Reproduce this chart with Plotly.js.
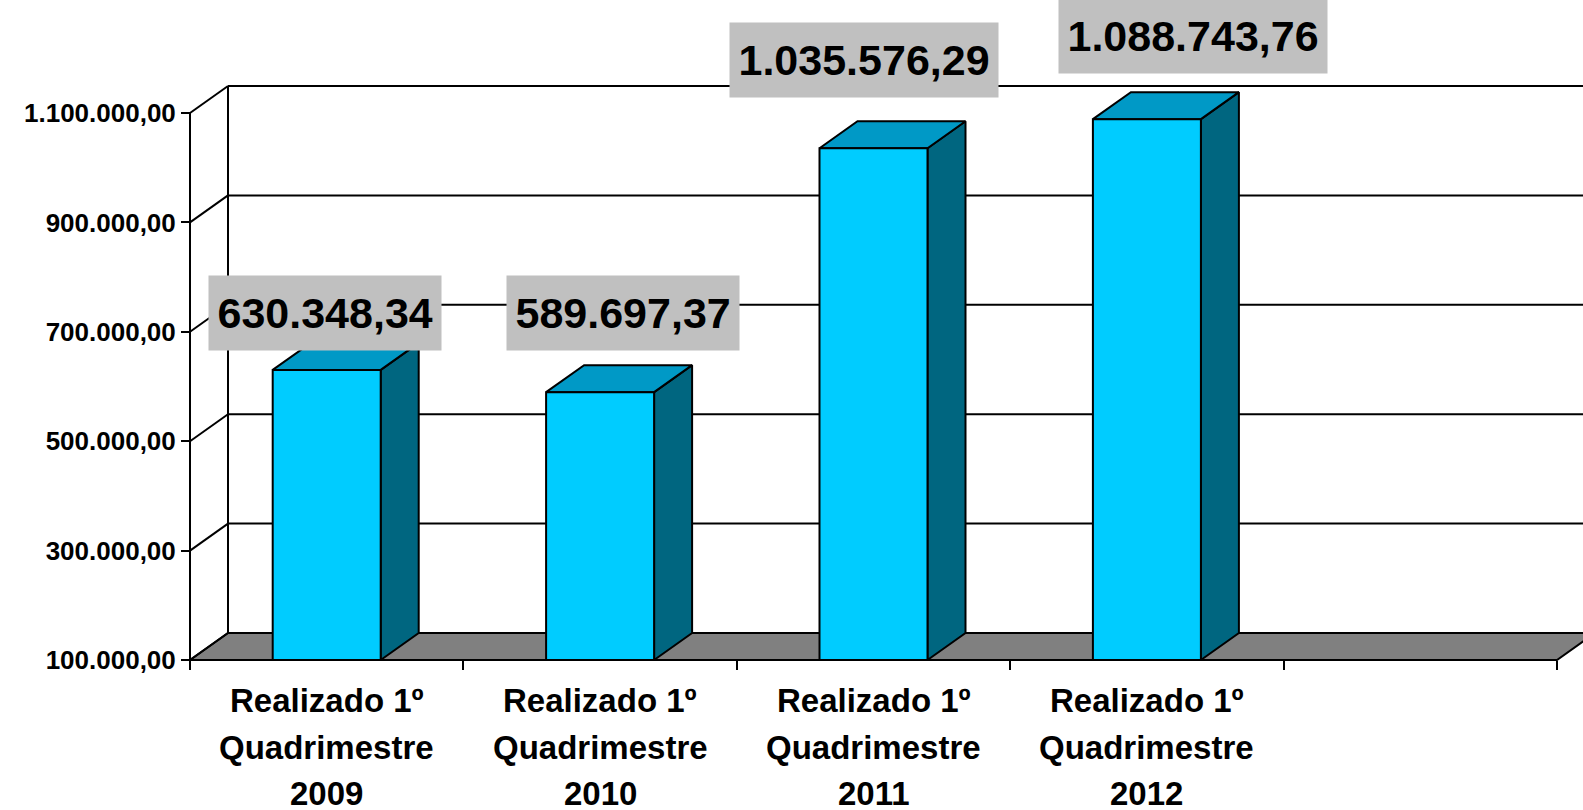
<!DOCTYPE html>
<html>
<head>
<meta charset="utf-8">
<script src="https://cdn.plot.ly/plotly-3.0.1.min.js"></script>
<style>html,body{margin:0;padding:0;background:#fff;}#chart{width:1583px;height:810px;}</style>
</head>
<body>
<div id="chart"></div>
<script>
// ---- data ----
const categories = ['Realizado 1º<br>Quadrimestre<br>2009', 'Realizado 1º<br>Quadrimestre<br>2010', 'Realizado 1º<br>Quadrimestre<br>2011', 'Realizado 1º<br>Quadrimestre<br>2012'];
const values = [630348.34, 589697.37, 1035576.29, 1088743.76];
const yTicks = [100000, 300000, 500000, 700000, 900000, 1100000];
const nSlots = 5; // the original category axis has one extra empty slot

// ---- style / geometry ----
const W = 1583, H = 810;
const L = 180, B = 140;            // margins
const axisXpx = 190, axisYpx = 660; // pixel position of front axes
const slotPx = 273.4;              // pixels per category slot
const pxPerUnit = 547 / 1000000;   // pixels per value unit
const depthXpx = 38, depthYpx = 27;
const barWidth = 0.395;            // fraction of a slot
const font = 'Liberation Sans, Arial, sans-serif';
const frontColor = '#00CCFF', topColor = '#0099C6', sideColor = '#006680', floorColor = '#808080';
const labelShiftX = [-2, 23, -10, 46];
const labelShiftY = [57, 79, 88, 83];

const plotW = W - L, plotH = H - B;
const yBase = yTicks[0];
const xMin = -(axisXpx - L) / slotPx;
const xMax = xMin + plotW / slotPx;
const yMin = yBase - (plotH - axisYpx) / pxPerUnit;
const yMax = yMin + plotH / pxPerUnit;
const DX = depthXpx / slotPx;
const DY = depthYpx / pxPerUnit;

const traces = [];
// floor
traces.push({
  type: 'scatter', mode: 'lines', hoverinfo: 'skip', showlegend: false,
  x: [0, nSlots, nSlots + DX, DX, 0], y: [yBase, yBase, yBase + DY, yBase + DY, yBase],
  fill: 'toself', fillcolor: floorColor, line: {color: '#000', width: 2}
});
// walls: gridlines, side wall diagonals, edges
const gx = [], gy = [];
yTicks.forEach((v, k) => {
  gx.push(0, DX, null); gy.push(v, v + DY, null);
  if (k > 0) { gx.push(DX, xMax + 1, null); gy.push(v + DY, v + DY, null); }
});
gx.push(DX, DX, null); gy.push(yBase + DY, yTicks[yTicks.length - 1] + DY, null);
gx.push(0, 0, null); gy.push(yBase, yTicks[yTicks.length - 1], null);
traces.push({type: 'scatter', mode: 'lines', hoverinfo: 'skip', showlegend: false,
  x: gx, y: gy, line: {color: '#000', width: 2}, connectgaps: false});

// bars
values.forEach((v, i) => {
  const c = i + 0.5, x0 = c - barWidth / 2, x1 = c + barWidth / 2;
  traces.push({type: 'scatter', mode: 'lines', hoverinfo: 'skip', showlegend: false,
    x: [x1, x1 + DX, x1 + DX, x1, x1], y: [yBase, yBase + DY, v + DY, v, yBase],
    fill: 'toself', fillcolor: sideColor, line: {color: '#000', width: 2}});
  traces.push({type: 'scatter', mode: 'lines', hoverinfo: 'skip', showlegend: false,
    x: [x0, x1, x1 + DX, x0 + DX, x0], y: [v, v, v + DY, v + DY, v],
    fill: 'toself', fillcolor: topColor, line: {color: '#000', width: 2}});
  traces.push({type: 'scatter', mode: 'lines', hoverinfo: 'skip', showlegend: false,
    x: [x0, x1, x1, x0, x0], y: [yBase, yBase, v, v, yBase],
    fill: 'toself', fillcolor: frontColor, line: {color: '#000', width: 2}});
});

function fmtBR(v) {
  const parts = v.toFixed(2).split('.');
  return parts[0].replace(/\B(?=(\d{3})+(?!\d))/g, '.') + ',' + parts[1];
}

const annotations = [];
values.forEach((v, i) => {
  annotations.push({
    x: i + 0.5, y: v, xref: 'x', yref: 'y', showarrow: false,
    text: fmtBR(v), xanchor: 'center', yanchor: 'middle',
    xshift: labelShiftX[i], yshift: labelShiftY[i],
    bgcolor: '#C0C0C0', borderpad: 8.5, height: 57,
    font: {family: font, size: 43, color: '#000', weight: 'bold'}
  });
});
const lineShift = [-40, -87, -133];
categories.forEach((c, i) => {
  c.split('<br>').forEach((t, k) => {
    annotations.push({
      x: i + 0.5, y: 0, xref: 'x', yref: 'paper', showarrow: false,
      text: t, xanchor: 'center', yanchor: 'middle',
      yshift: lineShift[k] + (plotH - axisYpx),
      font: {family: font, size: 33, color: '#000', weight: 'bold'}
    });
  });
});

const xTickVals = [];
for (let k = 0; k <= nSlots; k++) xTickVals.push(k);

const layout = {
  width: W, height: H,
  margin: {l: L, r: 0, t: 0, b: B, pad: 0},
  paper_bgcolor: '#fff', plot_bgcolor: '#fff',
  separators: ',.',
  showlegend: false,
  xaxis: {
    range: [xMin, xMax], anchor: 'free', position: (plotH - axisYpx) / plotH,
    showgrid: false, zeroline: false, showline: false,
    tickmode: 'array', tickvals: xTickVals, showticklabels: false,
    ticks: 'outside', ticklen: 9, tickwidth: 2, tickcolor: '#000'
  },
  yaxis: {
    range: [yMin, yMax], anchor: 'free', position: (axisXpx - L) / plotW,
    showgrid: false, zeroline: false, showline: false,
    tickmode: 'array', tickvals: yTicks, tickformat: ',.2f',
    ticks: 'outside', ticklen: 9, tickwidth: 2, tickcolor: '#000',
    tickfont: {family: font, size: 26, color: '#000', weight: 'bold'}
  },
  annotations: annotations
};

Plotly.newPlot('chart', traces, layout, {staticPlot: true, displayModeBar: false});
</script>
</body>
</html>
